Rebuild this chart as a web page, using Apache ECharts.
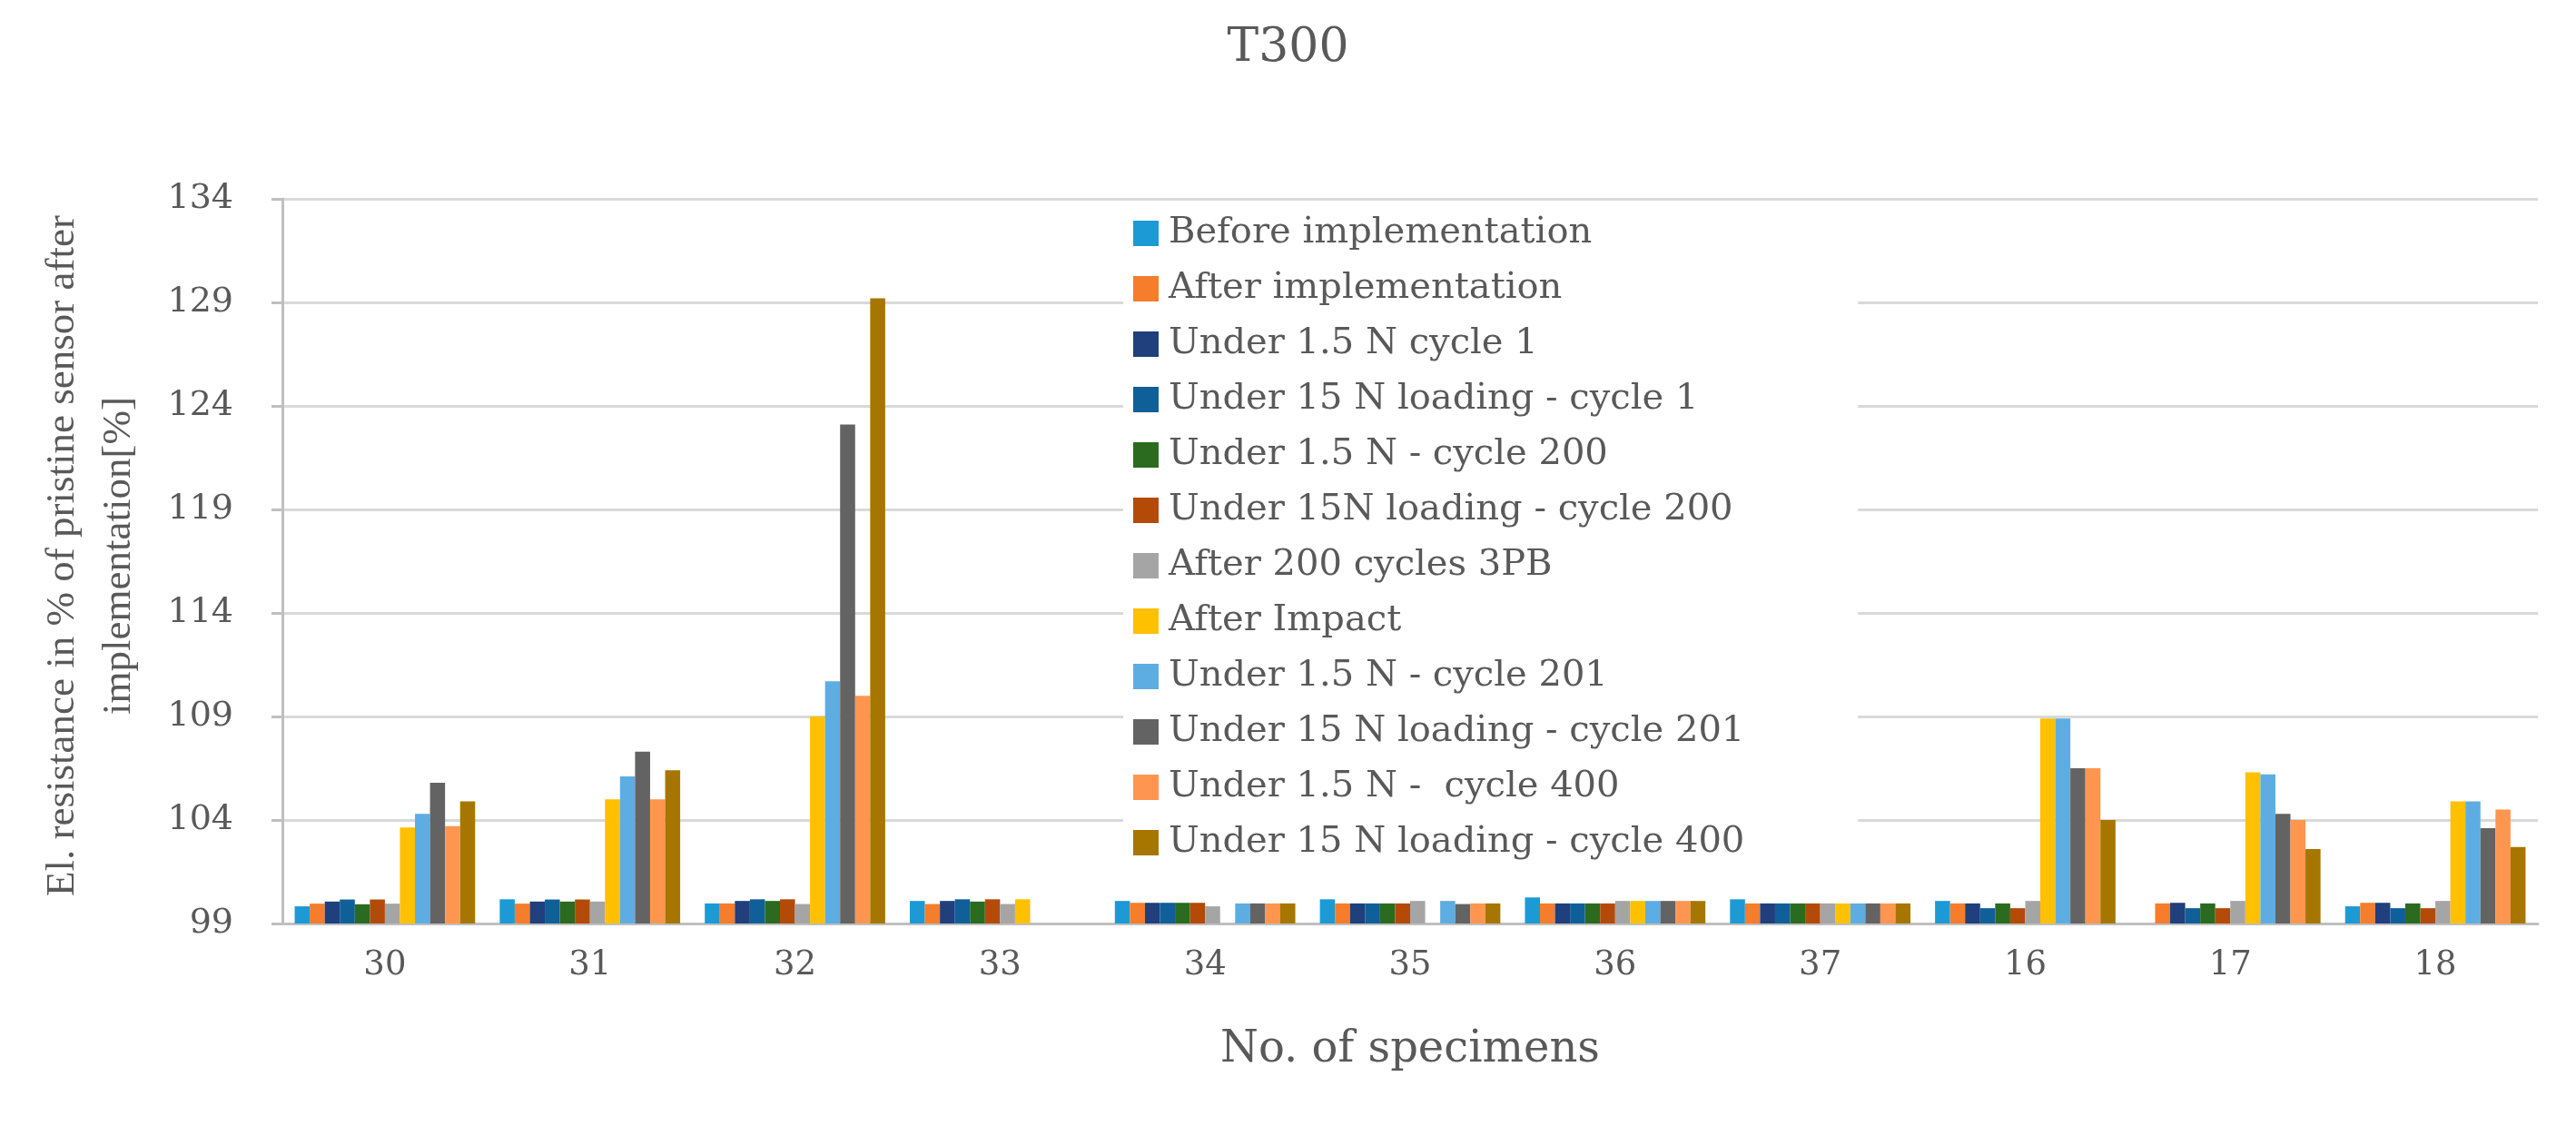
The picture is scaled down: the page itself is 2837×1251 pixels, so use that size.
<!DOCTYPE html>
<html>
<head>
<meta charset="utf-8">
<script src="https://cdn.jsdelivr.net/npm/echarts@6/dist/echarts.min.js"></script>
<style>
  html, body { margin: 0; padding: 0; background: #fff; }
  #chart { width: 2837px; height: 1251px; }
</style>
</head>
<body>
<div id="chart"></div>
<script>
// 试件编号
var specimens = ['30', '31', '32', '33', '34', '35', '36', '37', '16', '17', '18'];
var yTicks = [99, 104, 109, 114, 119, 124, 129, 134];

// 各阶段电阻值 (% of pristine), null = 无数据
var beforeImpl   = [99.83, 100.17, 99.97, 100.09, 100.09, 100.17, 100.26, 100.17, 100.09, null, 99.83];
var afterImpl    = [99.96, 99.96, 99.97, 99.94, 100.0, 99.97, 99.97, 99.97, 99.97, 99.97, 100.0];
var n15cycle1    = [100.06, 100.06, 100.09, 100.09, 100.0, 99.97, 99.97, 99.97, 99.97, 100.0, 100.0];
var n150cycle1   = [100.16, 100.16, 100.17, 100.17, 100.0, 99.97, 99.97, 99.97, 99.74, 99.74, 99.74];
var n15cycle200  = [99.93, 100.06, 100.09, 100.06, 100.0, 99.97, 99.97, 99.97, 99.97, 99.97, 99.97];
var n150cycle200 = [100.16, 100.16, 100.17, 100.17, 100.0, 99.97, 99.97, 99.97, 99.74, 99.74, 99.74];
var after3PB     = [99.96, 100.06, 99.94, 99.94, 99.83, 100.09, 100.09, 99.97, 100.09, 100.09, 100.09];
var afterImpact  = [103.64, 105.0, 109.0, 100.17, null, null, 100.09, 99.97, 108.9, 106.3, 104.9];
var n15cycle201  = [104.3, 106.1, 110.7, null, 99.97, 100.09, 100.09, 99.97, 108.9, 106.2, 104.9];
var n150cycle201 = [105.8, 107.3, 123.1, null, 99.97, 99.94, 100.09, 99.97, 106.5, 104.3, 103.6];
var n15cycle400  = [103.7, 105.0, 110.0, null, 99.97, 99.97, 100.09, 99.97, 106.5, 104.0, 104.5];
var n150cycle400 = [104.9, 106.4, 129.2, null, 99.97, 99.97, 100.09, 99.97, 104.0, 102.6, 102.7];

var seriesNames = [
  'Before implementation',
  'After implementation',
  'Under 1.5 N cycle 1',
  'Under 15 N loading - cycle 1',
  'Under 1.5 N - cycle 200',
  'Under 15N loading - cycle 200',
  'After 200 cycles 3PB',
  'After Impact',
  'Under 1.5 N - cycle 201',
  'Under 15 N loading - cycle 201',
  'Under 1.5 N -  cycle 400',
  'Under 15 N loading - cycle 400'
];
var seriesData = [beforeImpl, afterImpl, n15cycle1, n150cycle1, n15cycle200, n150cycle200,
  after3PB, afterImpact, n15cycle201, n150cycle201, n15cycle400, n150cycle400];
var colors = ['#1C9AD6', '#F57D2B', '#1F3F7D', '#0F5F99', '#2A6B1F', '#B44A07',
  '#A5A5A5', '#FFC000', '#5DADE2', '#636363', '#FF9650', '#A67600'];

var FONT = 'DejaVu Serif';
var TEXT = '#595959';

var chart = echarts.init(document.getElementById('chart'));

var series = [];
for (var i = 0; i < seriesNames.length; i++) {
  series.push({
    name: seriesNames[i],
    type: 'bar',
    data: seriesData[i],
    barGap: '0%',
    barCategoryGap: '12%',
    itemStyle: { color: colors[i] }
  });
}

var option = {
  animation: false,
  color: colors,
  title: {
    text: 'T300',
    left: 'center',
    top: 22,
    textStyle: { fontFamily: FONT, fontSize: 52, fontWeight: 'normal', color: TEXT }
  },
  legend: {
    orient: 'vertical',
    left: 1237,
    top: 235,
    padding: [0, 125, 0, 11],
    backgroundColor: '#fff',
    itemWidth: 28,
    itemHeight: 28,
    itemGap: 17,
    icon: 'rect',
    data: seriesNames,
    textStyle: { fontFamily: FONT, fontSize: 40, color: TEXT, lineHeight: 44, padding: [0, 0, 0, 6] }
  },
  grid: { left: 311, right: 42, top: 219, bottom: 234, containLabel: false },
  xAxis: {
    type: 'category',
    data: specimens,
    name: 'No. of specimens',
    nameLocation: 'middle',
    nameGap: 116,
    nameTextStyle: { fontFamily: FONT, fontSize: 48, color: TEXT },
    axisLine: { lineStyle: { color: '#BFBFBF', width: 3 } },
    axisTick: { show: false },
    axisLabel: { fontFamily: FONT, fontSize: 37, color: TEXT, margin: 28 }
  },
  yAxis: {
    type: 'value',
    min: yTicks[0],
    max: yTicks[yTicks.length - 1],
    interval: 5,
    axisLine: { show: true, lineStyle: { color: '#BFBFBF', width: 3 } },
    axisTick: { show: true, length: 12, lineStyle: { color: '#BFBFBF', width: 3 } },
    axisLabel: { fontFamily: FONT, fontSize: 38, color: TEXT, margin: 54 },
    splitLine: { lineStyle: { color: '#D9D9D9', width: 3 } }
  },
  graphic: [{
    type: 'text',
    x: 100,
    y: 612,
    rotation: Math.PI / 2,
    style: {
      text: 'El. resistance in % of pristine sensor after\nimplementation[%]',
      font: '45px "Liberation Serif"',
      fill: TEXT,
      align: 'center',
      verticalAlign: 'middle',
      lineHeight: 62
    }
  }],
  series: series
};

chart.setOption(option);
</script>
</body>
</html>
